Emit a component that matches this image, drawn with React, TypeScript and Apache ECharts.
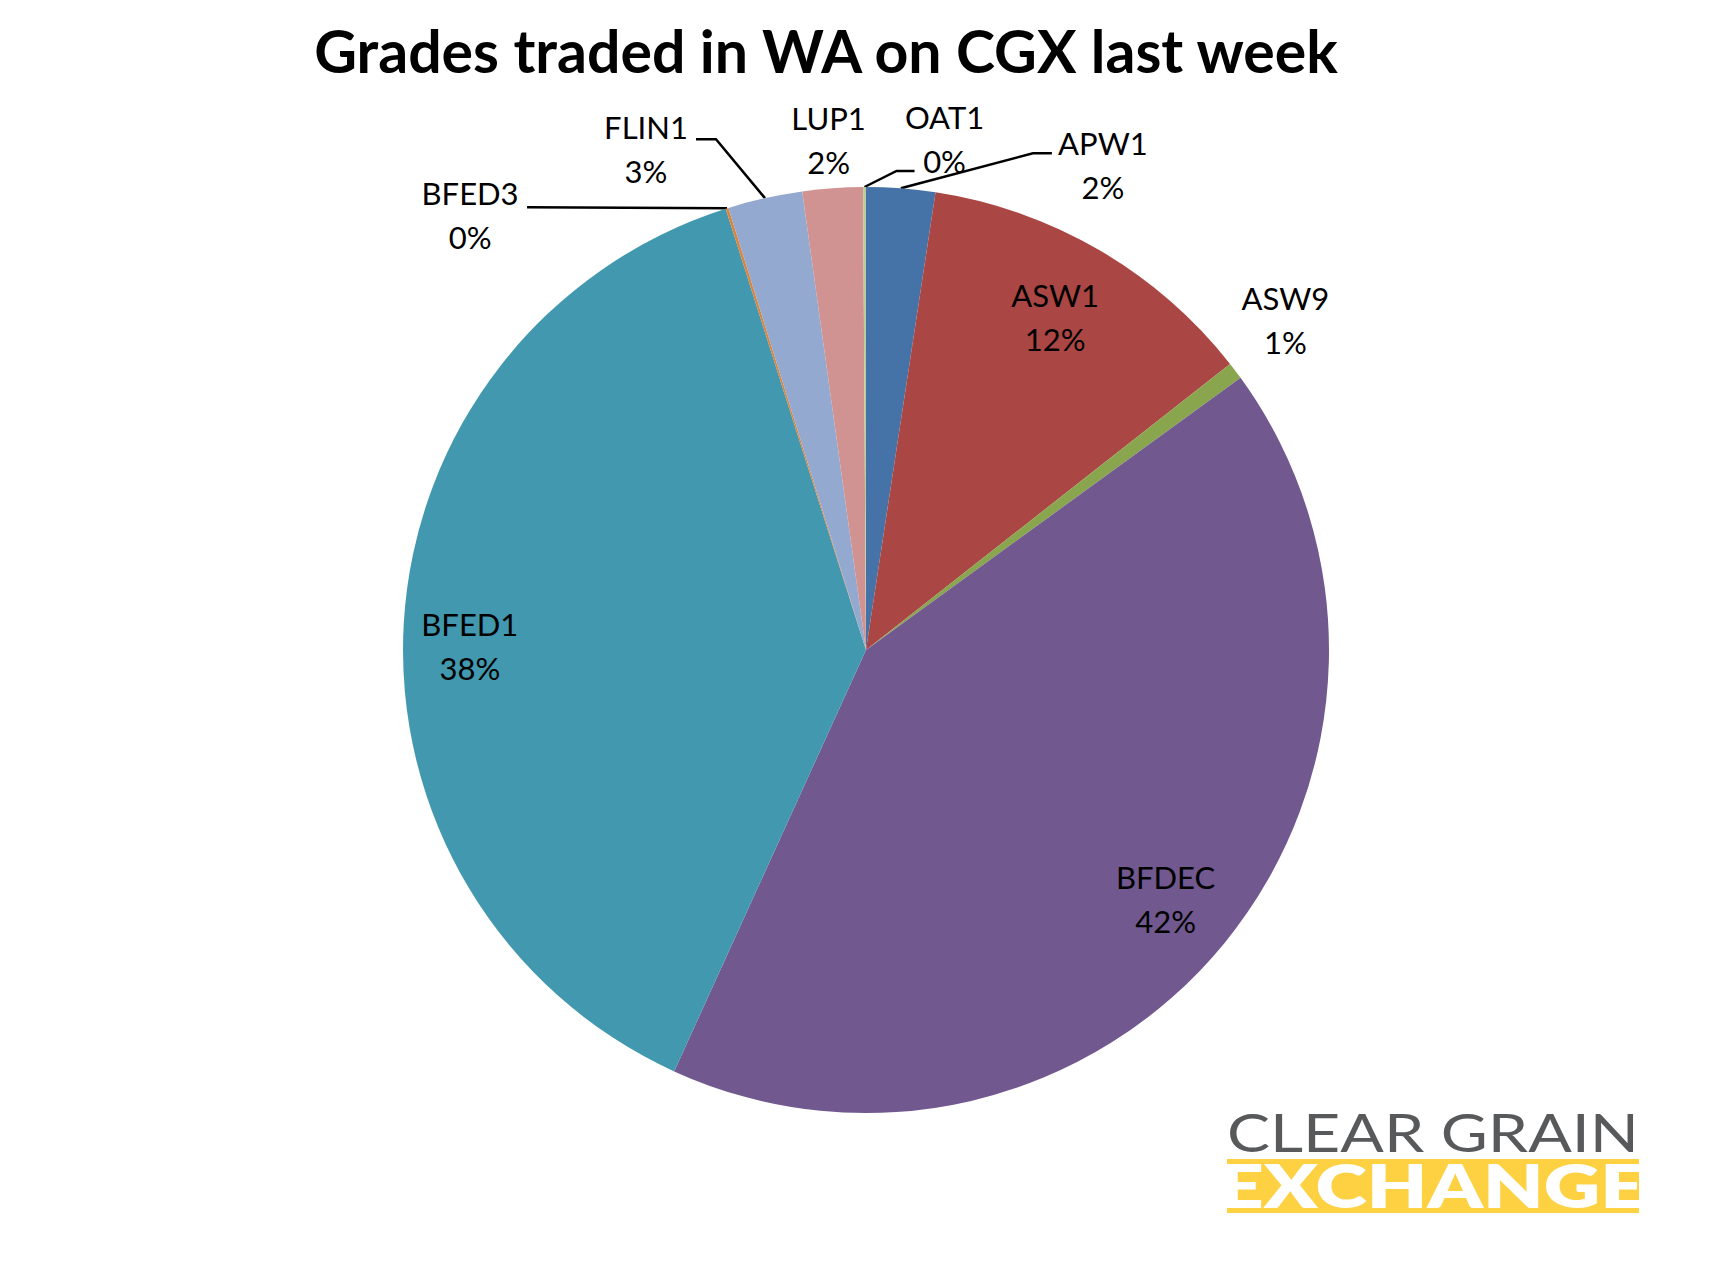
import React, { useEffect, useRef } from 'react';
import * as echarts from 'echarts';

// ---- data ----
const grades = ['APW1', 'ASW1', 'ASW9', 'BFDEC', 'BFED1', 'BFED3', 'FLIN1', 'LUP1', 'OAT1'];
const shares = [2.4, 12.0, 0.6, 41.8, 38.3, 0.1, 2.6, 2.1, 0.1];
const sliceColors = ['#4572A7', '#AA4643', '#89A54E', '#71588F', '#4198AF', '#DB843D', '#93A9CF', '#D19392', '#B9CD96'];
const titleText = 'Grades traded in WA on CGX last week';
const logoTop = 'CLEAR GRAIN';
const logoBottom = 'EXCHANGE';

// ---- layout ----
const W = 1732;
const H = 1283;
const CX = 866;
const CY = 650;
const R = 463;

// label block centre offset from the slice's rim mid-point
const labelOffsets: Record<string, [number, number]> = {
  APW1: [202, -23],
  ASW1: [-44, 67],
  ASW9: [50, -51],
  BFDEC: [-59, -44],
  BFED1: [66, 24],
  BFED3: [-257, 7],
  FLIN1: [-119, -49],
  LUP1: [-4, -48],
  OAT1: [80, -48],
};
// leader line bends, relative to the rim mid-point
const leaderBends: Record<string, [number, number][]> = {
  APW1: [[132, -35], [151, -35]],
  BFED3: [[-100, -0.5], [-200, -1]],
  FLIN1: [[-49, -59], [-69, -59]],
  OAT1: [[32, -16], [50, -16]],
};

function measure(text: string, font: string): number {
  const c = document.createElement('canvas');
  const ctx = c.getContext('2d');
  if (!ctx) return text.length * 30;
  ctx.font = font;
  return ctx.measureText(text).width;
}

export default function App() {
  const ref = useRef<HTMLDivElement>(null);

  useEffect(() => {
    document.body.style.margin = '0';
    if (!ref.current) return;
    const chart = echarts.init(ref.current, undefined, { renderer: 'svg' });

    const total = shares.reduce((a, b) => a + b, 0);
    const rimPoint = (i: number): [number, number] => {
      let before = 0;
      for (let k = 0; k < i; k++) before += shares[k];
      const mid = ((before + shares[i] / 2) / total) * Math.PI * 2;
      return [CX + R * Math.sin(mid), CY - R * Math.cos(mid)];
    };

    const topFont = '400 52px Lato';
    const topScale = 412 / measure(logoTop, topFont);
    const botFont = '800 60px Lato';
    const botScale = 426 / measure(logoBottom, botFont);

    const option: any = {
      animation: false,
      backgroundColor: '#ffffff',
      title: {
        text: titleText,
        left: 826,
        top: 21,
        textAlign: 'center',
        padding: 0,
        textStyle: {
          fontFamily: 'Lato',
          fontWeight: 'bold',
          fontSize: 59,
          lineHeight: 59,
          color: '#000000',
        },
      },
      series: [
        {
          type: 'pie',
          center: [CX, CY],
          radius: R,
          startAngle: 90,
          clockwise: true,
          avoidLabelOverlap: false,
          emphasis: { disabled: true },
          itemStyle: { borderWidth: 0 },
          label: {
            show: true,
            position: 'outside',
            formatter: (p: any) => `${p.name}\n${Math.round(p.percent)}%`,
            fontFamily: 'Lato',
            fontSize: 31,
            lineHeight: 44,
            color: '#000000',
          },
          labelLine: {
            show: true,
            smooth: false,
            lineStyle: { color: '#000000', width: 2.5 },
          },
          labelLayout: (params: any) => {
            const i = params.dataIndex;
            const name = grades[i];
            const [ex, ey] = rimPoint(i);
            const [ox, oy] = labelOffsets[name];
            const res: any = {
              x: ex + ox,
              y: ey + oy,
              align: 'center',
              verticalAlign: 'middle',
            };
            const bends = leaderBends[name];
            if (bends) {
              res.labelLinePoints = [[ex, ey], ...bends.map(([bx, by]) => [ex + bx, ey + by])];
            }
            return res;
          },
          data: grades.map((g, i) => ({
            name: g,
            value: shares[i],
            itemStyle: { color: sliceColors[i] },
            labelLine: { show: !!leaderBends[g] },
          })),
        },
      ],
      graphic: [
        {
          type: 'text',
          x: 1227,
          y: 1132,
          scaleX: topScale,
          style: {
            text: logoTop,
            font: topFont,
            fill: '#58595B',
            align: 'left',
            textAlign: 'left',
            verticalAlign: 'middle',
            textVerticalAlign: 'middle',
          },
        },
        {
          type: 'rect',
          shape: { x: 1227, y: 1159, width: 412, height: 54 },
          style: { fill: '#FDD141' },
        },
        {
          type: 'text',
          x: 1219,
          y: 1208 - 0.387 * 60,
          scaleX: botScale,
          style: {
            text: logoBottom,
            font: botFont,
            fill: '#ffffff',
            align: 'left',
            textAlign: 'left',
            verticalAlign: 'middle',
            textVerticalAlign: 'middle',
          },
        },
      ],
    };

    chart.setOption(option);
    return () => chart.dispose();
  }, []);

  return <div ref={ref} style={{ width: W, height: H }} />;
}
